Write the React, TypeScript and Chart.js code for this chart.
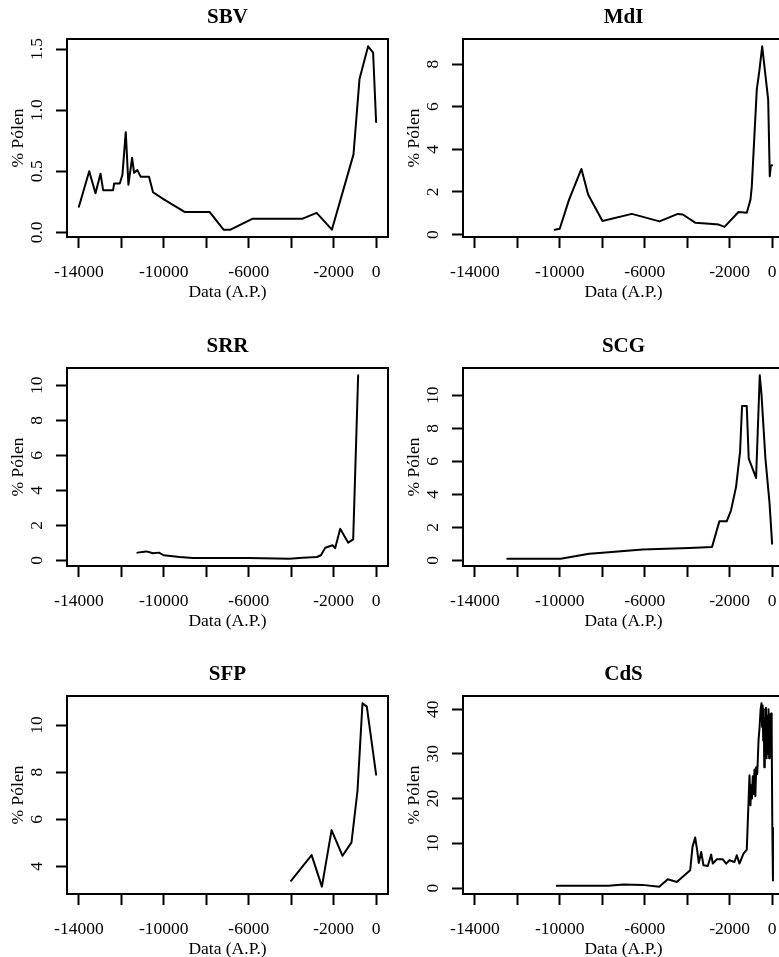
import React, { useEffect, useRef } from "react";
import { Chart, registerables } from "chart.js";

Chart.register(...registerables);

// ---- shared axis data ----
const xTickValues = [-14000, -12000, -10000, -8000, -6000, -4000, -2000, 0];
const xTickLabels = ["-14000", "", "-10000", "", "-6000", "", "-2000", "0"];
const xLimits = [-14000, 0];
const xTitle = "Data (A.P.)";
const yTitle = "% Pólen";

// ---- SBV ----
const sbvDates = [-14000, -13514, -13217, -12982, -12857, -12387, -12340, -12074, -11950, -11792, -11667, -11494, -11400, -11244, -11087, -10696, -10508, -10000, -9020, -7845, -7187, -6859, -5810, -3461, -2803, -2083, -1065, -783, -376, -141, 0];
const sbvPollen = [0.21, 0.5, 0.32, 0.48, 0.345, 0.345, 0.4, 0.4, 0.47, 0.82, 0.39, 0.61, 0.487, 0.509, 0.454, 0.454, 0.328, 0.27, 0.167, 0.167, 0.022, 0.022, 0.112, 0.112, 0.159, 0.022, 0.638, 1.254, 1.522, 1.47, 0.903];
const sbvYTicks = [0, 0.5, 1, 1.5];
const sbvYLabels = ["0.0", "0.5", "1.0", "1.5"];

// ---- MdI ----
const mdiDates = [-10240, -10004, -9564, -8982, -8667, -7991, -6607, -5305, -4443, -4207, -3609, -2794, -2512, -2243, -1584, -1193, -1019, -957, -722, -595, -468, -185, -110, -62, 0];
const mdiPollen = [0.23, 0.27, 1.64, 3.08, 1.88, 0.64, 0.97, 0.62, 0.97, 0.94, 0.55, 0.5, 0.47, 0.36, 1.06, 1.02, 1.64, 2.26, 6.8, 7.73, 8.83, 6.33, 2.73, 3.23, 3.25];
const mdiYTicks = [0, 2, 4, 6, 8];
const mdiYLabels = ["0", "2", "4", "6", "8"];

// ---- SRR ----
const srrDates = [-11244, -10821, -10508, -10226, -10007, -9255, -8629, -6000, -4087, -3461, -2788, -2600, -2396, -2051, -1926, -1691, -1315, -1080, -846];
const srrPollen = [0.44, 0.51, 0.4, 0.44, 0.29, 0.19, 0.14, 0.14, 0.095, 0.15, 0.19, 0.29, 0.72, 0.86, 0.7, 1.81, 1.01, 1.2, 10.57];
const srrYTicks = [0, 2, 4, 6, 8, 10];
const srrYLabels = ["0", "2", "4", "6", "8", "10"];

// ---- SCG ----
const scgDates = [-12474, -9957, -8620, -7991, -6103, -3901, -2831, -2485, -2139, -1935, -1699, -1510, -1416, -1195, -1101, -755, -582, -503, -315, -126, 0];
const scgPollen = [0.1, 0.1, 0.4, 0.46, 0.65, 0.75, 0.81, 2.36, 2.36, 3.03, 4.44, 6.57, 9.35, 9.35, 6.16, 4.99, 11.21, 10.1, 6.16, 3.54, 1.01];
const scgYTicks = [0, 2, 4, 6, 8, 10];
const scgYLabels = ["0", "2", "4", "6", "8", "10"];

// ---- SFP ----
const sfpDates = [-4009, -3038, -2553, -2098, -1582, -1159, -877, -642, -438, 0];
const sfpPollen = [3.39, 4.48, 3.14, 5.54, 4.45, 5.02, 7.21, 10.92, 10.78, 7.89];
const sfpYTicks = [4, 6, 8, 10];
const sfpYLabels = ["4", "6", "8", "10"];

// ---- CdS ----
const cdsDates = [-10146, -7700, -7000, -6100, -5317, -4914, -4490, -3859, -3750, -3624, -3529, -3454, -3341, -3232, -3030, -2870, -2794, -2606, -2324, -2163, -2008, -1772, -1664, -1537, -1349, -1193, -1065, -1020, -985, -950, -910, -870, -830, -790, -750, -700, -640, -590, -540, -500, -470, -445, -420, -395, -370, -345, -320, -290, -260, -230, -200, -170, -140, -110, -80, -50, -20, 10, 40];
const cdsPollen = [0.5, 0.5, 0.8, 0.7, 0.3, 1.95, 1.34, 3.96, 9.2, 11.3, 8.4, 5.6, 8.06, 5.08, 4.92, 7.47, 5.46, 6.42, 6.42, 5.46, 6.2, 5.82, 7.32, 5.46, 7.7, 8.6, 25.2, 18.5, 23, 20, 25, 21, 26.5, 20.5, 27, 25.5, 33, 36, 40, 41.3, 36, 40.8, 33, 40, 27, 38, 30, 40.3, 29, 38.5, 30, 40, 29, 38.8, 32, 39, 35, 13.5, 1.7];
const cdsYTicks = [0, 10, 20, 30, 40];
const cdsYLabels = ["0", "10", "20", "30", "40"];

const FONT = '"Liberation Serif", "Times New Roman", serif';
const TEXT_SIZE = 17.5;

type Panel = {
  title: string;
  dates: number[];
  values: number[];
  yTicks: number[];
  yLabels: string[];
  col: number;
  row: number;
};

const panels: Panel[] = [
  { title: "SBV", dates: sbvDates, values: sbvPollen, yTicks: sbvYTicks, yLabels: sbvYLabels, col: 0, row: 0 },
  { title: "MdI", dates: mdiDates, values: mdiPollen, yTicks: mdiYTicks, yLabels: mdiYLabels, col: 1, row: 0 },
  { title: "SRR", dates: srrDates, values: srrPollen, yTicks: srrYTicks, yLabels: srrYLabels, col: 0, row: 1 },
  { title: "SCG", dates: scgDates, values: scgPollen, yTicks: scgYTicks, yLabels: scgYLabels, col: 1, row: 1 },
  { title: "SFP", dates: sfpDates, values: sfpPollen, yTicks: sfpYTicks, yLabels: sfpYLabels, col: 0, row: 2 },
  { title: "CdS", dates: cdsDates, values: cdsPollen, yTicks: cdsYTicks, yLabels: cdsYLabels, col: 1, row: 2 },
];

const COL_LEFT = [0, 396];
const ROW_TOP = [0, 329, 657];
const CW = 390;
const CH = 305;

const boxPlugin = {
  id: "rbox",
  afterDraw(chart: any) {
    const { ctx, chartArea: a } = chart;
    ctx.save();
    ctx.strokeStyle = "#000";
    ctx.lineWidth = 2;
    ctx.strokeRect(a.left, a.top, a.right - a.left, a.bottom - a.top);
    ctx.restore();
  },
};

function PanelChart({ panel }: { panel: Panel }) {
  const ref = useRef<HTMLCanvasElement>(null);
  useEffect(() => {
    const lo = Math.min(...panel.values);
    const hi = Math.max(...panel.values);
    const pad = (hi - lo) * 0.04;
    const xPad = (xLimits[1] - xLimits[0]) * 0.04;
    const mctx = document.createElement("canvas").getContext("2d")!;
    mctx.font = `${TEXT_SIZE}px ${FONT}`;
    const widest = Math.max(...panel.yLabels.map((l) => mctx.measureText(l).width));
    const textFont = { family: FONT, size: TEXT_SIZE, lineHeight: 1.2 };
    const xTickFont = { family: FONT, size: TEXT_SIZE, lineHeight: 48 / TEXT_SIZE };
    const gridOpts = {
      display: true,
      drawOnChartArea: false,
      drawTicks: true,
      tickLength: 11,
      tickWidth: 2,
      tickColor: "#000",
    };
    const chart = new Chart(ref.current!, {
      type: "line",
      data: {
        datasets: [
          {
            data: panel.dates.map((d, i) => ({ x: d, y: panel.values[i] })),
            borderColor: "#000",
            borderWidth: 2,
            pointRadius: 0,
            tension: 0,
            fill: false,
            borderJoinStyle: "round",
            borderCapStyle: "round",
          },
        ],
      },
      options: {
        responsive: false,
        animation: false,
        devicePixelRatio: 1,
        events: [],
        layout: { padding: { left: 0, right: 2, top: 0, bottom: 0 } },
        plugins: {
          legend: { display: false },
          tooltip: { enabled: false },
          title: {
            display: true,
            text: panel.title,
            fullSize: false,
            color: "#000",
            font: { family: FONT, size: 21, weight: "bold", lineHeight: 1.2 },
            padding: { top: 5.4, bottom: 8.4 },
          },
        },
        scales: {
          x: {
            type: "linear",
            position: "bottom",
            bounds: "data",
            min: xLimits[0] - xPad,
            max: xLimits[1] + xPad,
            afterBuildTicks: (s: any) => {
              s.ticks = xTickValues.map((v) => ({ value: v }));
            },
            afterFit: (s: any) => {
              s.height = CH - 237;
            },
            ticks: {
              autoSkip: false,
              maxRotation: 0,
              minRotation: 0,
              padding: 0,
              color: "#000",
              font: xTickFont,
              callback: (_v: any, i: number) => xTickLabels[i],
            },
            grid: gridOpts,
            border: { display: false },
            title: {
              display: true,
              text: xTitle,
              color: "#000",
              font: textFont,
              padding: { top: 0, bottom: 2.3 },
            },
          },
          y: {
            type: "linear",
            position: "left",
            bounds: "data",
            min: lo - pad,
            max: hi + pad,
            afterBuildTicks: (s: any) => {
              s.ticks = panel.yTicks.map((v) => ({ value: v }));
            },
            afterFit: (s: any) => {
              s.width = 67;
            },
            ticks: {
              autoSkip: false,
              minRotation: 90,
              maxRotation: 90,
              crossAlign: "center",
              padding: 19 - widest / 2,
              color: "#000",
              font: textFont,
              callback: (_v: any, i: number) => panel.yLabels[i],
            },
            grid: gridOpts,
            border: { display: false },
            title: {
              display: true,
              text: yTitle,
              color: "#000",
              font: textFont,
              padding: { top: 8, bottom: 0 },
            },
          },
        },
      } as any,
      plugins: [boxPlugin],
    });
    return () => chart.destroy();
  }, [panel]);

  return (
    <canvas
      ref={ref}
      width={CW}
      height={CH}
      style={{
        position: "absolute",
        left: COL_LEFT[panel.col],
        top: ROW_TOP[panel.row],
        width: CW,
        height: CH,
      }}
    />
  );
}

export default function App() {
  return (
    <div
      style={{
        position: "absolute",
        left: 0,
        top: 0,
        width: 779,
        height: 957,
        overflow: "hidden",
        background: "#fff",
      }}
    >
      {panels.map((p) => (
        <PanelChart key={p.title} panel={p} />
      ))}
    </div>
  );
}
